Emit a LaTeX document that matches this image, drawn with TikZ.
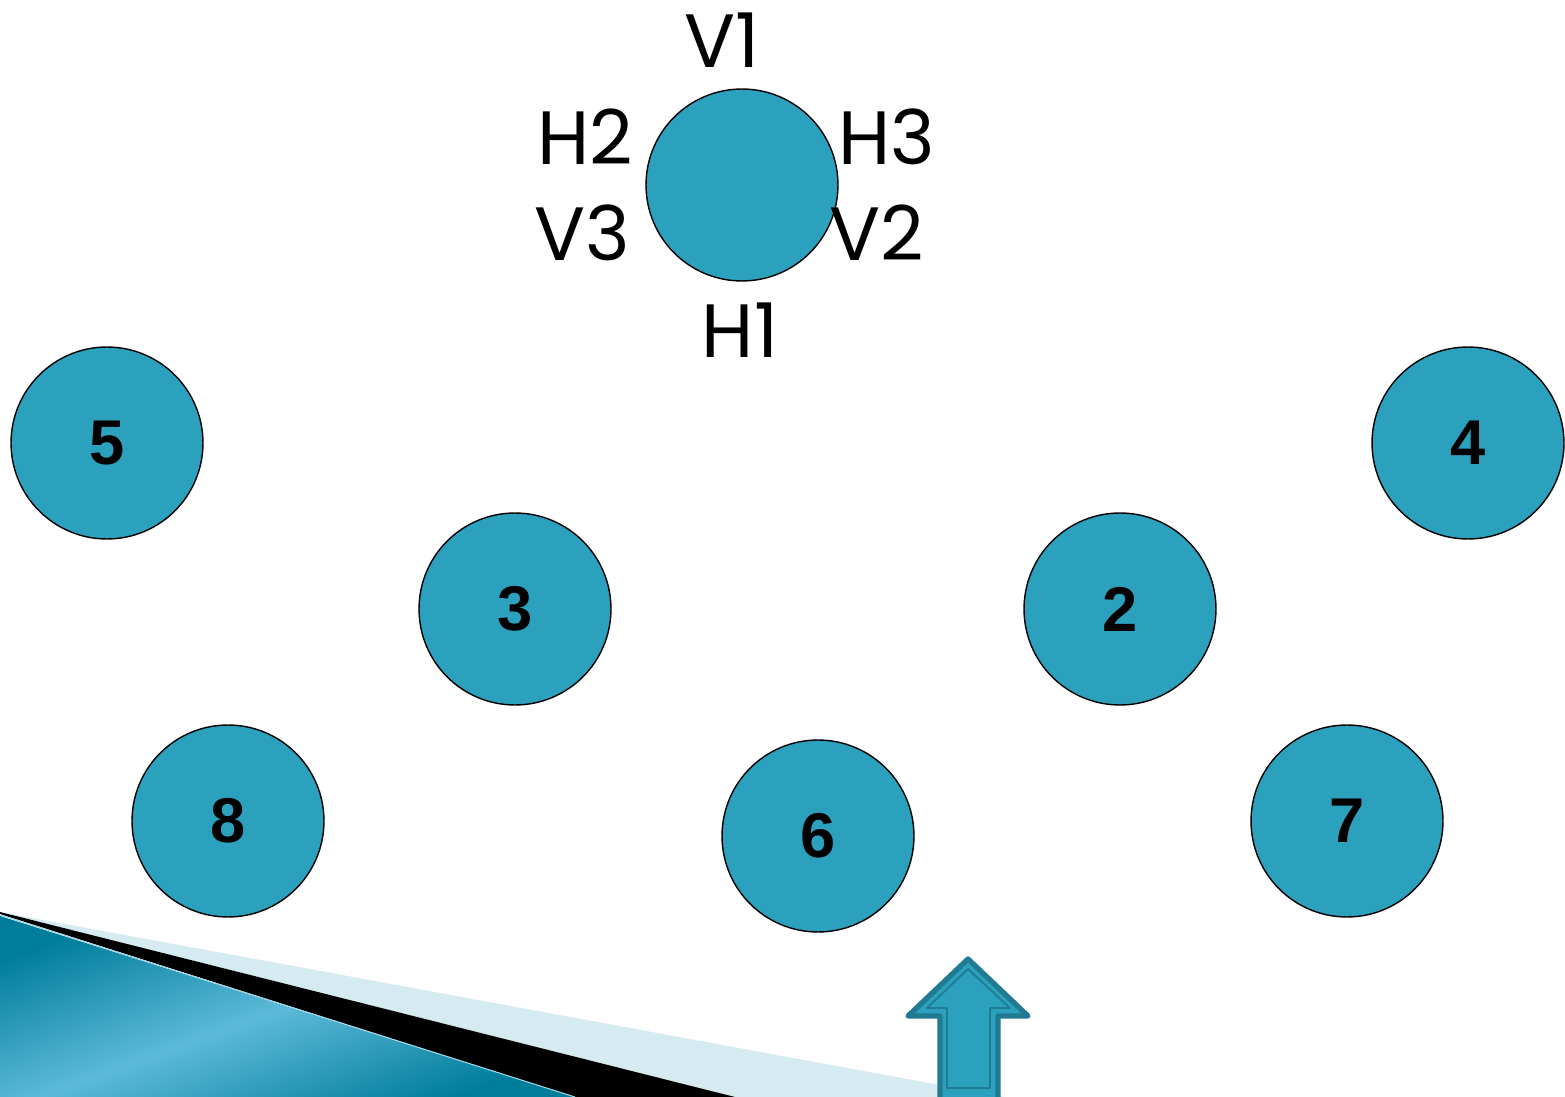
\documentclass[tikz,border=0pt]{standalone}
\usepackage{fontspec}
\setmainfont{Liberation Sans}
\newfontfamily\sidefont{Poppins}
\usetikzlibrary{positioning}
\definecolor{dotblue}{RGB}{44,161,190}
\definecolor{arrowedge}{RGB}{31,122,146}
\definecolor{paleblue}{RGB}{214,234,242}
\definecolor{deepteal}{RGB}{0,125,155}
\definecolor{lightteal}{RGB}{92,186,216}

\begin{document}
\begin{tikzpicture}[x=0.02cm, y=-0.02cm,
        dotnode/.style={circle, draw=black, fill=dotblue, minimum size=3.84cm, inner sep=0pt, line width=0.8pt, font=\fontsize{36}{36}\selectfont\bfseries},
        sidenode/.style={inner sep=0pt, font=\sidefont\fontsize{43}{43}\selectfont},
        arrowline/.style={draw=arrowedge, line join=round},
        ]
        \useasboundingbox (0,0) rectangle (1565,1097);

        %Wedge
        \fill[paleblue] (0,912) -- (1005,1097) -- (735,1097) -- cycle;
        \fill[black] (0,912) -- (735,1097) -- (575,1097) -- (0,914) -- cycle;
        \shade[left color=deepteal, right color=deepteal, middle color=lightteal, shading angle=20] (0,916) -- (575,1097) -- (0,1097) -- cycle;
        \draw[lightteal!60, line width=0.6pt] (0,915) -- (575,1097);

        %Nodes
        \node[dotnode] (ctop) at (742,185) {};
        \node[dotnode] (c5) at (107,443) {5};
        \node[dotnode] (c4) at (1468,443) {4};
        \node[dotnode] (c3) at (515,609) {3};
        \node[dotnode] (c2) at (1120,609) {2};
        \node[dotnode] (c8) at (228,821) {8};
        \node[dotnode] (c6) at (818,836) {6};
        \node[dotnode] (c7) at (1347,821) {7};

        \node[sidenode] (lv1) at (722,40) {V1};
        \node[sidenode] (lh2) at (585,137) {H2};
        \node[sidenode] (lh3) at (887,137) {H3};
        \node[sidenode] (lv3) at (582,233) {V3};
        \node[sidenode] (lv2) at (877,233) {V2};
        \node[sidenode] (lh1) at (740,330) {H1};

        %Arrow
        \filldraw[arrowline, fill=dotblue, line width=3pt] (968,959) -- (1028,1016) -- (998,1016) -- (998,1100) -- (940,1100) -- (940,1016) -- (908,1016) -- cycle;
        \draw[arrowline, line width=1pt] (968,969) -- (1010,1008) -- (990,1008) -- (990,1088) -- (947,1088) -- (947,1008) -- (927,1008) -- cycle;
    \end{tikzpicture}
\end{document}
